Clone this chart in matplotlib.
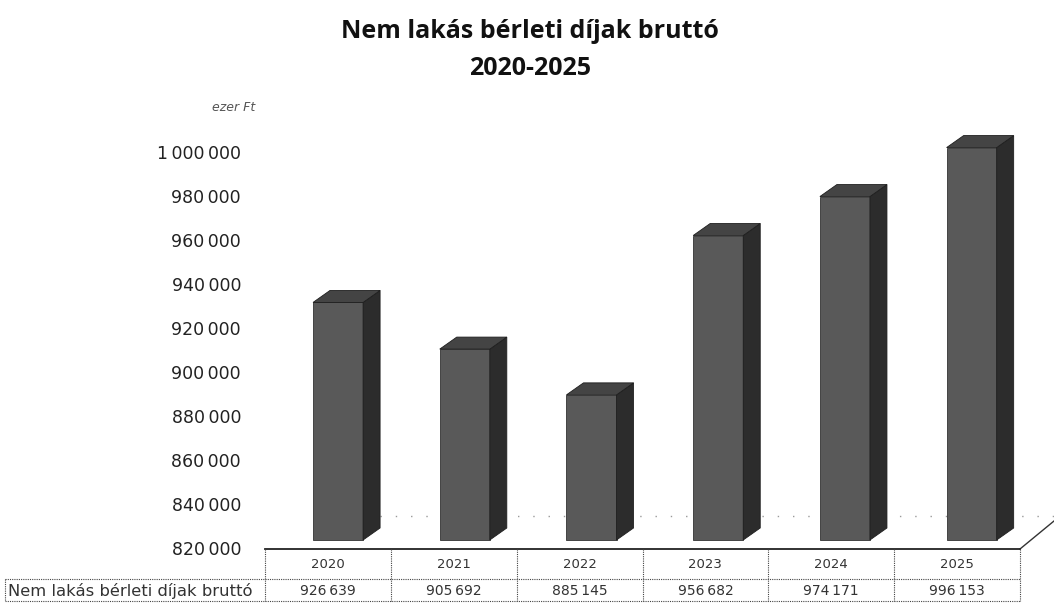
import matplotlib
matplotlib.use("Agg")
import matplotlib.pyplot as plt
from matplotlib.patches import Polygon
from matplotlib.lines import Line2D

plt.rcParams["font.family"] = ["DejaVu Sans"]

# ---- data ----
years = ["2020", "2021", "2022", "2023", "2024", "2025"]
values = [926639, 905692, 885145, 956682, 974171, 996153]
series_name = "Nem lakás bérleti díjak bruttó"
value_labels = ["926\u2009639", "905\u2009692", "885\u2009145", "956\u2009682", "974\u2009171", "996\u2009153"]
tick_values = [820000, 840000, 860000, 880000, 900000, 920000, 940000, 960000, 980000, 1000000]
tick_labels = ["820\u2009000", "840\u2009000", "860\u2009000", "880\u2009000", "900\u2009000",
               "920\u2009000", "940\u2009000", "960\u2009000", "980\u2009000", "1\u2009000\u2009000"]
title = "Nem lakás bérleti díjak bruttó\n2020-2025"
unit = "ezer Ft"

W, H = 1054, 608
fig = plt.figure(figsize=(W / 100, H / 100), dpi=100)

def fx(px):
    return px / W

def fy(py):
    return 1 - py / H

YMIN, YMAX = 820000, 1000000

# bar axes (front faces)
bx0, bx1 = 274.7, 1035.0
by0, by1 = 540.0, 139.0
ax = fig.add_axes([fx(bx0), fy(by0), fx(bx1) - fx(bx0), fy(by1) - fy(by0)])
ax.set_xlim(-0.5, len(years) - 0.5)
ax.set_ylim(YMIN, YMAX)
ax.axis("off")

bar_w = 0.395
depth_x = 17 / ((bx1 - bx0) / len(years))          # depth in category units
depth_y = 12 * (YMAX - YMIN) / (by0 - by1)          # depth in value units

front_c = "#595959"
side_c = "#2c2c2c"
top_c = "#444444"

xs = list(range(len(years)))
ax.bar(xs, [v - YMIN for v in values], bottom=YMIN, width=bar_w,
       color=front_c, edgecolor="#333333", linewidth=0.6, zorder=3, clip_on=False)
for x, v in zip(xs, values):
    l, r = x - bar_w / 2, x + bar_w / 2
    side = Polygon([(r, YMIN), (r + depth_x, YMIN + depth_y),
                    (r + depth_x, v + depth_y), (r, v)],
                   closed=True, facecolor=side_c, edgecolor="#1e1e1e",
                   linewidth=0.6, zorder=3, clip_on=False)
    top = Polygon([(l, v), (l + depth_x, v + depth_y),
                   (r + depth_x, v + depth_y), (r, v)],
                  closed=True, facecolor=top_c, edgecolor="#1e1e1e",
                  linewidth=0.6, zorder=3, clip_on=False)
    ax.add_patch(side)
    ax.add_patch(top)

# tick axes (value labels on the back wall scale)
tax = fig.add_axes([fx(248), fy(548), 0.001, fy(152) - fy(548)])
tax.set_ylim(YMIN, YMAX)
tax.set_yticks(tick_values)
tax.set_yticklabels(tick_labels)
tax.tick_params(axis="y", length=0, pad=5, labelsize=12.5, labelcolor="#222222")
tax.set_xticks([])
for s in tax.spines.values():
    s.set_visible(False)

# overlay axes in pixel coordinates for table/floor/text
ov = fig.add_axes([0, 0, 1, 1], zorder=-1)
ov.set_xlim(0, W)
ov.set_ylim(H, 0)
ov.axis("off")

# floor: dotted back line and diagonal
ov.add_line(Line2D([380, 1054], [516, 516], color="#9a9a9a", lw=1.0,
                   linestyle=(0, (1, 10))))
ov.add_line(Line2D([1020, 1054], [549, 521], color="#333333", lw=1.0))

# table
tab_l, lab_l, tab_r = 265, 5, 1020
t_top, t_mid, t_bot = 549, 579, 601
ncol = len(years)
colw = (tab_r - tab_l) / ncol
lc = "#444444"
ov.add_line(Line2D([tab_l, tab_r], [t_top, t_top], color="#222222", lw=1.3))
ov.add_line(Line2D([lab_l, tab_r], [t_mid, t_mid], color=lc, lw=0.8, linestyle=(0, (1, 1))))
ov.add_line(Line2D([lab_l, tab_r], [t_bot, t_bot], color=lc, lw=0.8, linestyle=(0, (1, 1))))
ov.add_line(Line2D([lab_l, lab_l], [t_mid, t_bot], color=lc, lw=0.8, linestyle=(0, (1, 1))))
for i in range(ncol + 1):
    xx = tab_l + i * colw
    ov.add_line(Line2D([xx, xx], [t_top, t_bot], color=lc, lw=0.8, linestyle=(0, (1, 1))))
for i, (y, vl) in enumerate(zip(years, value_labels)):
    cx = tab_l + (i + 0.5) * colw
    ov.text(cx, (t_top + t_mid) / 2 + 1, y, ha="center", va="center",
            fontsize=9.5, color="#333333")
    ov.text(cx, (t_mid + t_bot) / 2 + 1, vl, ha="center", va="center",
            fontsize=10, color="#333333")
ov.text(lab_l + 3, (t_mid + t_bot) / 2 + 1, series_name, ha="left", va="center",
        fontsize=11.8, color="#333333")

# title and unit
fig.text(fx(530), fy(50), title, ha="center", va="center", fontsize=18,
         fontweight="bold", family="Open Sans", linespacing=1.6, color="#111111")
fig.text(fx(255), fy(108), unit, ha="right", va="center", fontsize=9,
         style="italic", color="#555555")

fig.savefig("out.png", dpi=100)
